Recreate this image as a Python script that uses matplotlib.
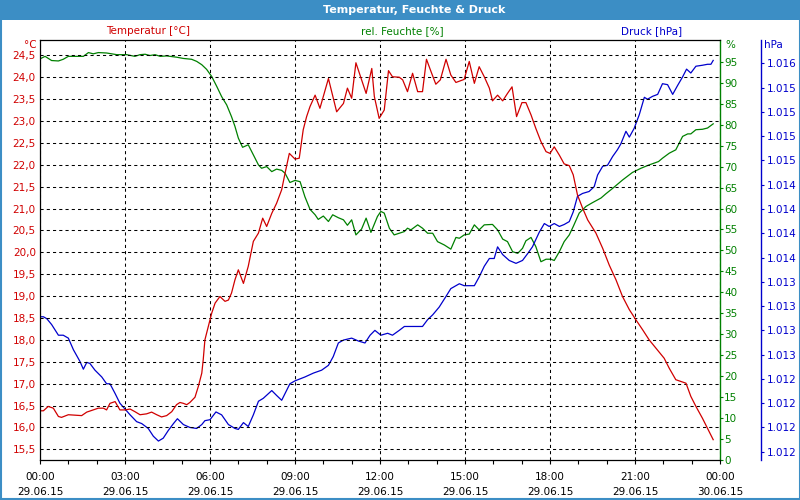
import matplotlib.pyplot as plt
from matplotlib.patches import Rectangle
from matplotlib.ticker import MultipleLocator, FixedLocator

# Temperatur [°C]
temp_h = [0, 0.12, 0.29, 0.47, 0.65, 0.76, 1.0, 1.47, 1.65, 1.88, 2.06, 2.24, 2.35, 2.47, 2.65,
          2.82, 3.0, 3.18, 3.35, 3.53, 3.76, 3.94, 4.12, 4.29, 4.47, 4.65, 4.82, 4.94, 5.06, 5.18,
          5.29, 5.47, 5.59, 5.71, 5.76, 5.82, 5.94, 6.06, 6.18, 6.35, 6.53, 6.65, 6.76, 6.88, 7.0,
          7.18, 7.35, 7.53, 7.71, 7.86, 8.0, 8.18, 8.35, 8.53, 8.65, 8.8, 9.0, 9.15, 9.29, 9.41,
          9.53, 9.71, 9.88, 10.18, 10.47, 10.71, 10.85, 11.0, 11.15, 11.51, 11.71, 11.80, 11.97,
          12.15, 12.30, 12.44, 12.68, 12.80, 12.97, 13.15, 13.33, 13.50, 13.64, 13.80, 13.97,
          14.13, 14.33, 14.50, 14.68, 14.97, 15.15, 15.33, 15.50, 15.68, 15.86, 15.97, 16.15,
          16.33, 16.50, 16.66, 16.82, 17.01, 17.15, 17.33, 17.50, 17.68, 17.86, 18.0, 18.15,
          18.33, 18.50, 18.68, 18.82, 18.97, 19.15, 19.33, 19.62, 19.86, 20.09, 20.33, 20.56,
          20.80, 21.03, 21.27, 21.50, 21.74, 22.03, 22.21, 22.44, 22.62, 22.80, 22.97, 23.15,
          23.38, 23.56, 23.76]
temp_v = [16.38, 16.38, 16.48, 16.44, 16.25, 16.23, 16.29, 16.27, 16.35, 16.40, 16.44, 16.44,
          16.40, 16.55, 16.59, 16.40, 16.40, 16.42, 16.36, 16.29, 16.31, 16.35, 16.29, 16.24,
          16.27, 16.36, 16.52, 16.57, 16.55, 16.52, 16.57, 16.69, 16.94, 17.24, 17.54, 18.00,
          18.31, 18.61, 18.84, 18.99, 18.88, 18.91, 19.07, 19.37, 19.60, 19.29, 19.68, 20.25,
          20.44, 20.78, 20.59, 20.89, 21.12, 21.43, 21.81, 22.26, 22.13, 22.15, 22.80, 23.10,
          23.33, 23.59, 23.29, 23.97, 23.21, 23.40, 23.75, 23.52, 24.33, 23.63, 24.20, 23.56,
          23.06, 23.25, 24.15, 24.01, 24.00, 23.94, 23.67, 24.09, 23.67, 23.67, 24.41, 24.13,
          23.84, 23.94, 24.41, 24.05, 23.88, 23.95, 24.36, 23.86, 24.24, 24.01, 23.75, 23.46,
          23.59, 23.46, 23.63, 23.78, 23.10, 23.42, 23.42, 23.14, 22.83, 22.53, 22.30, 22.26,
          22.41, 22.22, 22.02, 21.98, 21.77, 21.31, 21.01, 20.74, 20.44, 20.09, 19.71, 19.37,
          18.99, 18.69, 18.46, 18.23, 18.00, 17.81, 17.58, 17.35, 17.09, 17.05, 17.01, 16.71,
          16.48, 16.21, 15.98, 15.72]

# rel. Feuchte [%]
hum_h = [0, 0.18, 0.41, 0.65, 0.82, 1.0, 1.53, 1.71, 1.88, 2.06, 2.35, 2.71, 3.06, 3.35, 3.53,
         3.71, 3.88, 4.06, 4.24, 4.47, 4.82, 5.06, 5.35, 5.53, 5.71, 5.88, 6.06, 6.24, 6.41,
         6.59, 6.76, 6.88, 7.0, 7.15, 7.35, 7.53, 7.71, 7.82, 8.0, 8.18, 8.35, 8.53, 8.65, 8.82,
         9.0, 9.18, 9.35, 9.53, 9.71, 9.82, 10.0, 10.18, 10.33, 10.53, 10.71, 10.85, 11.0, 11.15,
         11.35, 11.51, 11.68, 11.91, 12.03, 12.15, 12.33, 12.50, 12.68, 12.86, 12.97, 13.09,
         13.33, 13.50, 13.68, 13.86, 14.03, 14.27, 14.50, 14.68, 14.80, 14.97, 15.15, 15.33,
         15.50, 15.68, 15.97, 16.15, 16.33, 16.50, 16.68, 16.86, 17.03, 17.15, 17.33, 17.50,
         17.68, 17.86, 18.03, 18.15, 18.33, 18.50, 18.68, 18.82, 19.03, 19.27, 19.50, 19.80,
         19.97, 20.21, 20.56, 20.91, 21.21, 21.50, 21.83, 21.97, 22.21, 22.44, 22.68, 22.86,
         22.97, 23.15, 23.38, 23.56, 23.76]
hum_v = [95.7, 96.3, 95.3, 95.2, 95.6, 96.3, 96.3, 97.2, 96.9, 97.2, 97.1, 96.7, 96.7, 96.3,
         96.7, 96.8, 96.5, 96.7, 96.3, 96.4, 96.1, 95.8, 95.6, 95.1, 94.3, 93.2, 91.5, 89.1,
         86.7, 84.7, 81.9, 79.6, 76.8, 74.6, 75.2, 72.8, 70.4, 69.6, 70.0, 68.8, 69.4, 69.1,
         68.4, 66.2, 66.7, 66.4, 62.8, 59.8, 58.5, 57.4, 58.2, 56.9, 58.5, 57.8, 57.3, 56.0,
         57.3, 53.7, 55.1, 57.7, 54.3, 58.1, 59.3, 58.9, 55.3, 53.7, 54.1, 54.5, 55.3, 54.9,
         56.1, 55.3, 54.1, 54.1, 52.1, 51.3, 50.3, 53.1, 52.9, 53.7, 53.9, 56.1, 54.9, 56.1,
         56.2, 54.9, 52.7, 52.1, 49.7, 49.3, 50.5, 52.3, 53.1, 50.9, 47.3, 47.9, 47.9, 47.6,
         49.7, 52.1, 53.7, 55.7, 58.9, 60.5, 61.4, 62.5, 63.5, 64.8, 66.8, 68.6, 69.6, 70.4,
         71.2, 72.0, 73.2, 74.0, 77.2, 77.8, 77.8, 78.8, 78.9, 79.2, 80.2]

# Druck [hPa]
pres_h = [0, 0.12, 0.24, 0.41, 0.65, 0.82, 1.0, 1.18, 1.41, 1.53, 1.65, 1.76, 1.94, 2.18, 2.35,
          2.47, 2.65, 2.82, 3.0, 3.18, 3.41, 3.59, 3.82, 4.0, 4.18, 4.35, 4.53, 4.71, 4.85, 5.06,
          5.29, 5.53, 5.71, 5.82, 6.0, 6.21, 6.41, 6.65, 6.88, 7.0, 7.18, 7.35, 7.53, 7.71, 7.88,
          8.18, 8.35, 8.53, 8.82, 9.0, 9.35, 9.65, 9.94, 10.18, 10.35, 10.53, 10.71, 11.0, 11.24,
          11.47, 11.65, 11.82, 12.03, 12.27, 12.44, 12.68, 12.86, 13.09, 13.50, 13.68, 13.86,
          14.09, 14.33, 14.50, 14.80, 14.97, 15.33, 15.50, 15.68, 15.86, 16.03, 16.15, 16.33,
          16.56, 16.80, 17.03, 17.21, 17.38, 17.62, 17.80, 17.97, 18.15, 18.33, 18.50, 18.68,
          18.82, 18.97, 19.15, 19.38, 19.56, 19.68, 19.86, 20.03, 20.21, 20.38, 20.50, 20.68,
          20.80, 20.97, 21.15, 21.33, 21.44, 21.62, 21.80, 21.97, 22.15, 22.33, 22.50, 22.68,
          22.82, 22.97, 23.15, 23.38, 23.56, 23.68, 23.76]
pres_v = [1013.39, 1013.39, 1013.37, 1013.31, 1013.20, 1013.20, 1013.17, 1013.05, 1012.93,
          1012.85, 1012.92, 1012.91, 1012.84, 1012.77, 1012.70, 1012.70, 1012.60, 1012.50,
          1012.44, 1012.38, 1012.31, 1012.29, 1012.24, 1012.16, 1012.11, 1012.14, 1012.22,
          1012.29, 1012.34, 1012.28, 1012.25, 1012.24, 1012.28, 1012.32, 1012.33, 1012.41,
          1012.38, 1012.28, 1012.24, 1012.23, 1012.30, 1012.26, 1012.38, 1012.52, 1012.55,
          1012.63, 1012.58, 1012.53, 1012.70, 1012.73, 1012.77, 1012.81, 1012.84, 1012.89,
          1012.98, 1013.12, 1013.15, 1013.17, 1013.14, 1013.12, 1013.20, 1013.25, 1013.20,
          1013.22, 1013.20, 1013.25, 1013.29, 1013.29, 1013.29, 1013.36, 1013.41, 1013.49,
          1013.60, 1013.68, 1013.73, 1013.71, 1013.71, 1013.80, 1013.91, 1013.99, 1013.99,
          1014.11, 1014.03, 1013.97, 1013.94, 1013.97, 1014.04, 1014.11, 1014.26, 1014.35,
          1014.32, 1014.35, 1014.32, 1014.34, 1014.37, 1014.47, 1014.63, 1014.66, 1014.68,
          1014.73, 1014.85, 1014.94, 1014.95, 1015.04, 1015.11, 1015.17, 1015.30, 1015.24,
          1015.33, 1015.47, 1015.65, 1015.63, 1015.66, 1015.68, 1015.79, 1015.78, 1015.68,
          1015.77, 1015.86, 1015.94, 1015.90, 1015.97, 1015.98, 1015.99, 1015.99, 1016.03]

x_ticks = [0, 3, 6, 9, 12, 15, 18, 21, 24]
x_labels = ["00:00\n29.06.15", "03:00\n29.06.15", "06:00\n29.06.15", "09:00\n29.06.15",
            "12:00\n29.06.15", "15:00\n29.06.15", "18:00\n29.06.15", "21:00\n29.06.15",
            "00:00\n30.06.15"]
temp_ticks = [15.5, 16.0, 16.5, 17.0, 17.5, 18.0, 18.5, 19.0, 19.5, 20.0, 20.5, 21.0, 21.5,
              22.0, 22.5, 23.0, 23.5, 24.0, 24.5]
hum_ticks = [0, 5, 10, 15, 20, 25, 30, 35, 40, 45, 50, 55, 60, 65, 70, 75, 80, 85, 90, 95]
pres_ticks = [1012.0, 1012.25, 1012.5, 1012.75, 1013.0, 1013.25, 1013.5, 1013.75, 1014.0,
              1014.25, 1014.5, 1014.75, 1015.0, 1015.25, 1015.5, 1015.75, 1016.0]
pres_labels = ["1.012", "1.012", "1.012", "1.012", "1.013", "1.013", "1.013", "1.013",
               "1.014", "1.014", "1.014", "1.014", "1.015", "1.015", "1.015", "1.015", "1.016"]

RED = '#d00000'
GREEN = '#008000'
BLUE = '#0000cc'
FRAME = '#3c8ec5'

plt.rcParams['font.family'] = ['DejaVu Sans']
plt.rcParams['font.size'] = 7.5

fig = plt.figure(figsize=(8, 5), dpi=100)

# title bar and window frame
fig.patches.append(Rectangle((0, 480 / 500), 1, 20 / 500, transform=fig.transFigure,
                             facecolor=FRAME, edgecolor='none', zorder=0))
fig.patches.append(Rectangle((0.5 / 800, 1 / 500), 799 / 800, 498 / 500, transform=fig.transFigure,
                             facecolor='none', edgecolor=FRAME, lw=1.5, zorder=0))
fig.text(414 / 800, 1 - 10 / 500, "Temperatur, Feuchte & Druck", color='white',
         fontweight='bold', fontsize=8, ha='center', va='center')

ax = fig.add_axes([40 / 800, 40 / 500, 680 / 800, 420 / 500])
ax_h = ax.twinx()
ax_p = ax.twinx()
ax_p.spines['right'].set_position(('axes', (761 - 40) / 680))

dash = (0, (3, 3))
ax.set_xlim(0, 24)
ax.set_ylim(15.256, 24.85)
ax.xaxis.set_major_locator(FixedLocator(x_ticks))
ax.xaxis.set_minor_locator(MultipleLocator(1))
ax.set_xticklabels(x_labels, linespacing=1.55)
ax.set_yticks(temp_ticks)
ax.set_yticklabels([f"{t:.1f}".replace('.', ',') for t in temp_ticks])
ax.grid(True, which='major', color='black', linestyle=dash, linewidth=0.75)
ax.tick_params(axis='y', length=0, pad=3, labelcolor=RED)
ax.tick_params(axis='x', which='both', length=3, width=0.8, pad=6, labelcolor='black')
for s in ['left', 'bottom', 'top']:
    ax.spines[s].set_linewidth(0.9)
ax.spines['right'].set_visible(False)

ax_h.set_ylim(0, 100.2)
ax_h.set_yticks(hum_ticks)
ax_h.spines['right'].set_color(GREEN)
ax_h.spines['right'].set_linewidth(1.0)
for s in ['left', 'bottom', 'top']:
    ax_h.spines[s].set_visible(False)
ax_h.tick_params(axis='y', length=2, width=0.8, color=GREEN, labelcolor=GREEN, pad=1)

ax_p.set_ylim(1011.915, 1016.24)
ax_p.set_yticks(pres_ticks)
ax_p.set_yticklabels(pres_labels)
ax_p.spines['right'].set_color(BLUE)
ax_p.spines['right'].set_linewidth(1.0)
for s in ['left', 'bottom', 'top']:
    ax_p.spines[s].set_visible(False)
ax_p.tick_params(axis='y', length=2, width=0.8, color=BLUE, labelcolor=BLUE, pad=2)

ax_h.plot(hum_h, hum_v, color=GREEN, lw=0.9)
ax_p.plot(pres_h, pres_v, color=BLUE, lw=0.9)
ax.plot(temp_h, temp_v, color=RED, lw=0.9)
ax.set_zorder(3)
ax.patch.set_visible(False)

# series captions and units
fig.text(148 / 800, 1 - 31 / 500, "Temperatur [°C]", color=RED, ha='center', va='center')
fig.text(402 / 800, 1 - 31 / 500, "rel. Feuchte [%]", color=GREEN, ha='center', va='center')
fig.text(652 / 800, 1 - 31 / 500, "Druck [hPa]", color=BLUE, ha='center', va='center')
fig.text(37 / 800, 1 - 45 / 500, "°C", color=RED, ha='right', va='center')
fig.text(725 / 800, 1 - 45 / 500, "%", color=GREEN, ha='left', va='center')
fig.text(764 / 800, 1 - 45 / 500, "hPa", color=BLUE, ha='left', va='center')

plt.savefig("out.png", dpi=100)
